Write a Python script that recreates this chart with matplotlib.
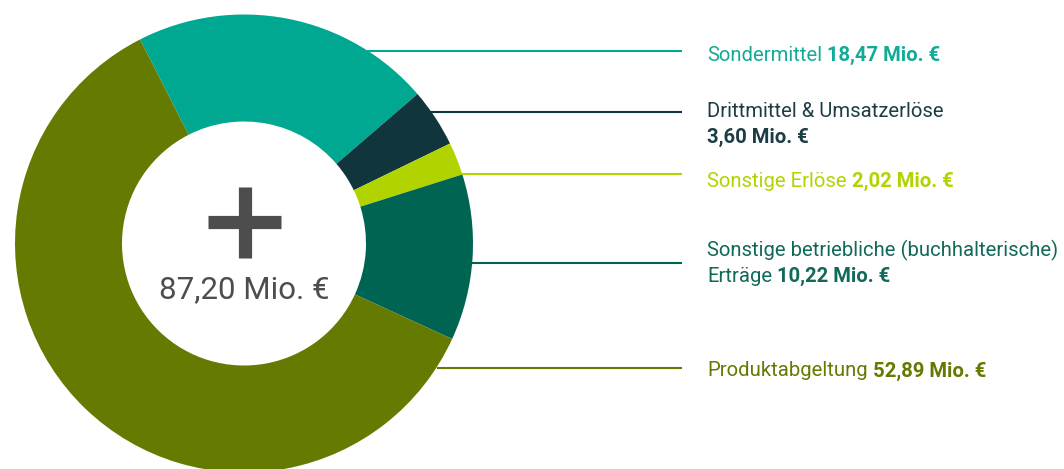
import numpy as np
import matplotlib
matplotlib.use("Agg")
import matplotlib.pyplot as plt

# Erträge, Angaben in Mio. €
labels = [
    ["Sondermittel"],
    ["Drittmittel & Umsatzerlöse", ""],
    ["Sonstige Erlöse"],
    ["Sonstige betriebliche (buchhalterische)", "Erträge"],
    ["Produktabgeltung"],
]
values = [18.47, 3.60, 2.02, 10.22, 52.89]
colors = ["#00a891", "#10353d", "#b1d400", "#006453", "#647a00"]
text_colors = ["#12ab95", "#1d3d46", "#b1d400", "#11695a", "#647a00"]

# layout in pixels (y measured from the top)
W, H = 1064, 469
cx, cy = 244, 243.5
R, r = 229, 122
line_y = [50.5, 112, 174, 263, 367.5]
text_y = [60.5, 117, 186.5, 256.5, 376.5]
line_end = 682
text_x = 707
line_gap = 25.5
fs = 14.6


def fmt(v):
    return f"{v:.2f}".replace(".", ",") + " Mio. €"


fig = plt.figure(figsize=(W / 100, H / 100), dpi=100)
ax = fig.add_axes([0, 0, 1, 1])
plt.rcParams["font.family"] = ["Roboto", "DejaVu Sans"]

ax.pie(values, colors=colors, startangle=117, counterclock=False,
       radius=R, center=(cx, H - cy),
       wedgeprops=dict(width=R - r, linewidth=0))
ax.set_xlim(0, W)
ax.set_ylim(0, H)
ax.set_aspect("equal")
ax.axis("off")

renderer = fig.canvas.get_renderer()

for lines, v, c, tc, ly, ty in zip(labels, values, colors, text_colors, line_y, text_y):
    # leader line from the outer ring edge
    x0 = cx + np.sqrt(R ** 2 - (ly - cy) ** 2)
    ax.plot([x0, line_end], [H - ly, H - ly], color=c, lw=1.5, solid_capstyle="butt")
    for i, s in enumerate(lines):
        y = H - (ty + i * line_gap)
        t = ax.text(text_x, y, s, color=tc, fontsize=fs, va="baseline", ha="left")
        if i == len(lines) - 1:
            x = text_x
            if s:
                x = text_x + t.get_window_extent(renderer).width + 5
            ax.text(x, y, fmt(v), color=tc, fontsize=fs, fontweight="bold",
                    va="baseline", ha="left")

# plus sign and total in the middle
ax.plot([208, 281], [H - 222, H - 222], color="#4d4d4d", lw=9.5, solid_capstyle="butt")
ax.plot([244.5, 244.5], [H - 187, H - 258], color="#4d4d4d", lw=9.5, solid_capstyle="butt")
ax.text(cx, H - 298, fmt(sum(values)), color="#4d4d4d", fontsize=22.5,
        ha="center", va="baseline")

fig.savefig("out.png", dpi=100)
